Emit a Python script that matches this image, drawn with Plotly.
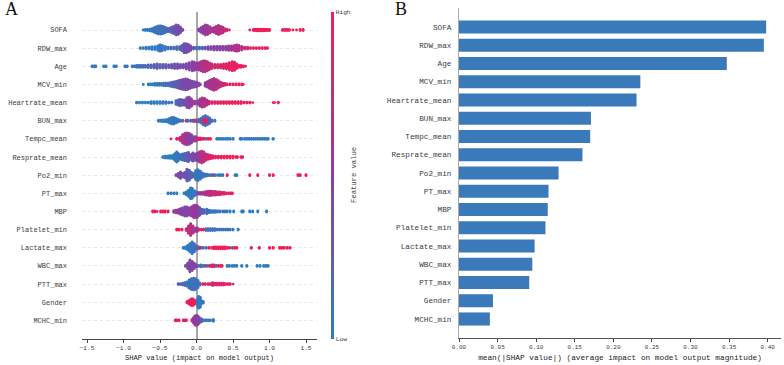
import plotly.graph_objects as go

features = ["SOFA","RDW_max","Age","MCV_min","Heartrate_mean","BUN_max","Tempc_mean","Resprate_mean",
            "Po2_min","PT_max","MBP","Platelet_min","Lactate_max","WBC_max","PTT_max","Gender","MCHC_min"]
mean_abs_shap = [0.398,0.395,0.347,0.235,0.230,0.171,0.170,0.160,0.129,0.116,0.115,0.112,0.098,0.095,0.091,0.044,0.040]
shap_ticks = [-1.5,-1.0,-0.5,0.0,0.5,1.0,1.5]
bar_ticks = [0.0,0.05,0.10,0.15,0.20,0.25,0.30,0.35,0.40]

# swarm columns: SHAP value, dots in the column, feature value (0 low .. 1 high)
sofa_x = [-.73,-.70,-.67,-.64,-.61,-.58,-.55,-.52,-.49,-.46,-.43,-.40,-.37,-.34,-.31,-.28,-.25,-.22,-.19,
          .03,.06,.09,.12,.15,.18,.21,.24,.27,.30,.33,.36,.39,.42,.45,
          .73,.78,.80,.82,.84,.86,.88,.90,.92,.94,.96,.98,1.0,1.18,1.21,1.24,1.27,1.32,1.37,1.42,1.46]
sofa_n = [1,2,2,3,4,6,8,10,10,9,7,5,5,7,9,12,11,7,2,
          3,6,9,12,11,8,5,6,9,11,9,7,4,2,1,
          1,2,2,2,3,2,3,2,3,2,2,2,2,2,2,2,2,1,1,2,2]
sofa_c = [0,0,0,0,.05,.05,.05,.08,.08,.1,.12,.15,.2,.25,.3,.35,.38,.4,.42,
          .45,.5,.55,.55,.6,.6,.65,.65,.7,.7,.72,.75,.8,.85,.9,
          1,1,1,1,1,1,1,1,1,1,1,1,1,1,1,1,1,1,1,1,1]

rdw_x = [-.77,-.73,-.69,-.65,-.61,-.57,-.53,-.50,-.47,-.43,-.39,-.35,-.31,-.27,-.23,-.20,-.17,-.14,-.11,-.08,-.04,
         0,.04,.08,.12,.16,.20,.24,.28,.32,.36,.40,.44,.48,.52,.55,.58,.62,.66,.70,.74,.78,.82,.86,.90,.94,.97]
rdw_n = [2,2,3,3,4,4,6,8,7,5,3,3,3,4,4,7,11,11,9,6,3,
         3,3,3,3,4,4,5,5,5,5,5,6,6,7,8,7,5,3,3,2,2,2,2,2,2,2]
rdw_c = [0,0,0,0,0,0,.02,.05,.05,.08,.1,.1,.12,.15,.2,.25,.3,.35,.38,.4,.4,
         .1,.1,.2,.35,.4,.45,.45,.45,.5,.5,.5,.55,.6,.65,.7,.7,.75,.8,.85,.9,.95,1,1,1,1,1]

age_x = [-1.43,-1.40,-1.38,-1.27,-1.24,-1.13,-1.10,-.98,-.95,-.88,-.85,-.82,-.79,-.76,-.73,-.70,-.66,-.62,-.58,-.54,-.50,-.46,-.42,-.38,-.34,-.30,-.26,-.22,-.18,-.14,-.10,-.06,-.03,
         0,.03,.06,.09,.12,.15,.18,.21,.25,.29,.33,.37,.41,.45,.49,.52,.55,.58,.61,.64,.67]
age_n = [2,2,2,2,2,2,2,2,2,2,2,3,3,3,3,3,4,4,5,6,5,5,5,4,5,6,6,5,5,7,9,11,10,
         8,9,11,13,13,11,8,6,5,5,5,6,7,9,11,10,6,3,3,2,1]
age_c = [0,0,0,0,0,0,0,.02,.02,.05,.05,.08,.1,.1,.1,.15,.15,.2,.2,.22,.25,.25,.28,.3,.3,.32,.35,.35,.38,.4,.45,.5,.5,
         .55,.6,.65,.7,.7,.72,.75,.8,.85,.85,.88,.9,.92,.92,.95,.95,.95,1,1,1,1]

mcv_x = [-.73,-.66,-.63,-.60,-.57,-.54,-.51,-.48,-.45,-.42,-.39,-.36,-.33,-.30,-.27,-.24,-.21,-.18,-.15,-.12,-.09,-.06,-.03,
         0,.03,.05,.12,.15,.18,.21,.24,.27,.30,.33,.36,.39,.42,.46,.50,.54,.58,.62,.64]
mcv_n = [1,2,2,2,3,3,3,3,4,4,4,5,6,7,8,10,11,12,13,12,10,8,7,
         6,4,2,5,7,10,12,14,12,9,6,4,3,2,2,2,2,2,2,1]
mcv_c = [0,0,0,0,0,.02,.05,.05,.08,.1,.12,.15,.18,.2,.25,.3,.35,.4,.42,.42,.42,.42,.4,
         .45,.45,.45,.55,.6,.6,.65,.65,.7,.72,.75,.8,.85,.9,.92,.95,1,1,1,1]

hr_x = [-.82,-.78,-.74,-.70,-.66,-.62,-.58,-.54,-.50,-.46,-.42,-.38,-.34,-.28,-.25,-.22,-.19,-.16,-.13,-.10,-.07,-.04,
        -.02,.02,.05,.08,.11,.14,.17,.21,.25,.29,.33,.37,.41,.45,.49,.53,.57,.61,.65,.69,.73,.77,1.05,1.07,1.12]
hr_n = [2,2,2,2,2,3,3,3,3,3,3,2,2,5,7,8,7,7,12,13,9,4,
        4,5,9,11,10,7,4,3,3,3,3,3,3,3,3,3,3,3,2,2,2,1,1,1,2]
hr_c = [0,0,0,0,0,0,0,0,.02,.02,.05,.05,.05,.15,.2,.25,.3,.35,.42,.45,.6,.85,
        .4,.5,.6,.65,.7,.7,.8,.85,.9,.9,.95,.95,.95,1,1,1,.95,.95,1,1,1,1,1,1,1]

bun_x = [-.52,-.49,-.46,-.43,-.40,-.37,-.34,-.31,-.28,-.25,-.22,-.19,-.14,-.12,-.08,-.05,-.03,
         0,.03,.06,.09,.12,.15,.18,.21,.25,.09,.12,.15]
bun_n = [2,2,3,3,4,6,8,8,6,4,2,2,2,2,2,2,3,
         3,4,6,10,12,10,7,3,2,4,5,3]
bun_c = [0,0,0,0,0,0,.02,.05,.05,.05,.08,.1,1,.1,.1,1,.1,
         1,.1,.05,.05,.05,.1,.1,.05,.05,.85,.95,.85]

tempc_x = [-.35,-.27,-.24,-.22,-.19,-.16,-.13,-.10,-.07,-.04,-.01,.02,.05,.08,.10,.13,.16,.19,.28,.31,.34,.37,.40,.43,.46,.50,.60,.62,.66,.69,.72,.75,.78,.81,.84,.87,.90,.93,.96,.98,1.05]
tempc_n = [1,2,2,5,10,13,14,13,10,6,6,3,3,2,2,2,2,2,2,2,2,2,2,2,2,2,2,2,2,2,2,2,2,2,2,2,2,2,2,2,2]
tempc_c = [1,.9,.9,.85,.7,.6,.55,.5,.5,.55,.45,.9,.95,1,1,.15,1,.9,0,0,0,0,0,0,0,0,0,0,0,0,0,0,0,0,0,0,0,0,0,0,0]

resp_x = [-.46,-.43,-.40,-.37,-.34,-.31,-.29,-.27,-.25,-.22,-.19,-.16,-.13,-.11,-.08,-.05,-.02,
          .01,.04,.07,.10,.13,.16,.19,.22,.26,.30,.34,.38,.42,.46,.50,.54,.56,.61,.63]
resp_n = [2,3,3,4,4,6,9,12,9,6,8,9,10,11,7,10,8,
          9,12,14,12,8,6,5,4,3,3,3,3,3,3,3,2,2,2,2]
resp_c = [0,0,0,0,0,0,0,.02,.05,.08,.12,.18,.25,.3,.35,.4,.45,
          .5,.6,.7,.75,.8,.85,.9,.95,.95,1,1,1,1,.95,1,1,1,1,1]

po2_x = [-.28,-.25,-.22,-.19,-.16,-.13,-.10,-.07,-.04,-.01,.02,.05,.08,.11,.14,.17,.20,.23,.26,.30,.33,.36,.42,.53,.55,.73,.84,1.0,1.05,1.39,1.42,1.5]
po2_n = [2,5,8,5,7,14,12,7,5,11,13,10,6,4,3,2,2,2,2,2,2,2,2,2,2,2,2,2,2,2,2,2]
po2_c = [.4,.4,.42,.35,.35,.3,.25,.2,.12,.05,.03,.03,.03,.03,.1,.03,.03,.5,.03,.03,.03,.03,1,0,0,1,1,1,1,1,1,1]

pt_x = [-.39,-.35,-.31,-.27,-.17,-.14,-.11,-.08,-.06,-.03,-.01,
        .02,.05,.08,.11,.14,.17,.20,.23,.26,.29,.32,.35,.38,.41,.44,.47,.49]
pt_n = [2,2,2,2,2,4,8,13,12,7,4,
        3,3,3,4,5,6,6,5,5,4,4,3,3,2,2,2,2]
pt_c = [0,0,0,0,0,0,0,0,.02,.02,.02,
        .5,.55,.6,.65,.7,.75,.7,.8,.75,.85,.85,.9,.9,.9,.95,.95,1]

mbp_x = [-.60,-.57,-.54,-.49,-.46,-.43,-.39,-.31,-.28,-.25,-.22,-.19,-.16,-.13,-.10,-.07,-.04,-.02,.01,.04,.07,.10,.14,.17,.20,.23,.26,.29,.32,.36,.39,.42,.46,.51,.62,.64,.73,.77,.84,.96]
mbp_n = [2,2,1,2,2,2,2,3,4,5,7,9,11,11,9,11,14,15,14,10,6,5,6,4,3,3,3,2,2,2,2,2,2,2,2,2,2,2,2,2]
mbp_c = [1,1,1,1,1,1,1,.6,.55,.5,.5,.45,.45,.45,.5,.55,.6,.55,.5,.4,.3,.2,.12,.1,.05,.05,.05,.05,.05,.05,.05,.05,0,0,0,0,0,0,0,0]

plt_x = [-.27,-.24,-.20,-.14,-.11,-.08,-.05,-.02,.01,.04,.07,.10,.13,.16,.19,.22,.25,.28,.31,.34,.37,.40,.43,.46,.50,.57]
plt_n = [2,2,2,3,9,14,9,5,5,2,2,2,3,3,3,3,3,2,2,2,2,2,2,2,2,2]
plt_c = [1,1,1,.9,.8,.7,.7,.55,.5,1,1,.9,.1,.1,.1,.1,.1,.05,.05,.05,.05,.05,.05,.05,.05,0]

lac_x = [-.18,-.15,-.12,-.09,-.06,-.03,0,.03,.06,.09,.13,.17,.21,.24,.27,.30,.33,.36,.39,.42,.45,.49,.52,.55,.75,.86,1.0,1.05,1.14,1.17,1.20,1.24,1.28]
lac_n = [2,3,6,10,14,10,5,3,2,2,2,2,2,3,3,3,3,3,3,2,2,2,2,2,2,2,2,2,2,2,2,2,2]
lac_c = [0,0,0,0,.05,.08,.15,.35,.7,.1,.1,.9,1,1,1,1,1,1,1,1,1,.1,1,1,1,1,1,1,1,1,1,1,1]

wbc_x = [-.15,-.12,-.09,-.06,-.03,0,.03,.06,.09,.12,.15,.18,.21,.24,.27,.30,.33,.35,.42,.45,.49,.52,.55,.62,.69,.83,.87,.92,.95,.98]
wbc_n = [2,7,14,11,7,3,2,3,2,2,2,2,3,3,2,2,2,2,2,2,2,2,2,2,2,2,2,2,2,2]
wbc_c = [.3,.4,.42,.45,.45,.5,.1,.1,.1,.7,.1,.8,.85,.9,.2,.9,1,1,0,0,0,0,0,0,0,0,0,0,0,0]

ptt_x = [-.25,-.22,-.19,-.16,-.13,-.10,-.07,-.04,-.01,.02,.05,.09,.12,.16,.19,.22,.25,.28,.31,.34,.37,.40,.43,.46,.50]
ptt_n = [2,2,3,4,6,10,13,14,13,9,3,2,2,2,2,4,3,3,3,3,3,2,2,2,1]
ptt_c = [.3,.2,.15,.1,.1,.05,.05,.08,.1,.1,.1,1,.9,.9,.8,.85,.85,.9,.9,.9,.95,1,1,.9,1]

gen_x = [-.13,-.11,-.09,-.07,-.05,-.03,-.01,.01,.02,.03,.05,.07,.09]
gen_n = [2,4,6,8,8,6,4,4,10,14,12,4,3]
gen_c = [1,1,1,1,1,1,1,0,0,0,0,0,0]

mchc_x = [-.29,-.27,-.24,-.18,-.16,-.14,-.06,-.04,-.02,0,.02,.04,.07,.10,.13,.16,.19,.23]
mchc_n = [2,2,2,2,2,2,3,7,11,12,10,7,4,2,2,2,2,3]
mchc_c = [1,1,1,1,1,1,.9,.55,.5,.55,.5,.45,.3,.05,0,0,0,0]

swarm_x = [sofa_x,rdw_x,age_x,mcv_x,hr_x,bun_x,tempc_x,resp_x,po2_x,pt_x,mbp_x,plt_x,lac_x,wbc_x,ptt_x,gen_x,mchc_x]
swarm_n = [sofa_n,rdw_n,age_n,mcv_n,hr_n,bun_n,tempc_n,resp_n,po2_n,pt_n,mbp_n,plt_n,lac_n,wbc_n,ptt_n,gen_n,mchc_n]
swarm_c = [sofa_c,rdw_c,age_c,mcv_c,hr_c,bun_c,tempc_c,resp_c,po2_c,pt_c,mbp_c,plt_c,lac_c,wbc_c,ptt_c,gen_c,mchc_c]

W, H = 784, 365
MONO = "Liberation Mono, DejaVu Sans Mono, monospace"
TXT = "#3c3c3c"
SCALE = [[0, "#2f7cc0"], [0.5, "#8c3fa3"], [1, "#f01e58"]]
DOT_STEP = 0.05   # vertical distance between stacked dots, in rows

px, py, pc = [], [], []
for row, (xs, ns, cs) in enumerate(zip(swarm_x, swarm_n, swarm_c)):
    for x, n, c in zip(xs, ns, cs):
        for i in range(n):
            px.append(x)
            py.append(row + (i - (n - 1) / 2) * DOT_STEP)
            pc.append(c)

fig = go.Figure()
fig.add_trace(go.Scatter(
    x=px, y=py, mode="markers", xaxis="x", yaxis="y", showlegend=False, hoverinfo="skip",
    marker=dict(size=2.9, color=pc, cmin=0, cmax=1, colorscale=SCALE, line=dict(width=0),
                colorbar=dict(
                    x=330.5/W, xanchor="left", xpad=0, y=(H-338.5)/H, yanchor="bottom", ypad=0,
                    len=326.5/H, lenmode="fraction", thickness=3, thicknessmode="pixels",
                    outlinewidth=0, tickvals=[0, 1], ticktext=["Low", "High"], ticks="",
                    tickfont=dict(family=MONO, size=6.2, color=TXT),
                ))))
fig.add_trace(go.Bar(
    x=mean_abs_shap, y=list(range(len(features))), orientation="h", xaxis="x2", yaxis="y2",
    marker=dict(color="#3a7aba", line=dict(width=0)), width=0.72, showlegend=False, hoverinfo="skip"))

fig.update_layout(
    width=W, height=H, margin=dict(l=0, r=0, t=0, b=0, autoexpand=False), paper_bgcolor="white", plot_bgcolor="white",
    xaxis=dict(domain=[82/W, 317/W], range=[(82-196.5)/73, (317-196.5)/73], anchor="y",
               tickvals=shap_ticks, tickformat=".1f", ticks="outside", ticklen=3, tickwidth=0.8, tickcolor="#444",
               tickfont=dict(family=MONO, size=6.2, color=TXT), showgrid=False,
               zeroline=True, zerolinecolor="#a8a8a8", zerolinewidth=1.6,
               showline=True, linecolor="#444", linewidth=1,
               title=dict(text="SHAP value (impact on model output)", standoff=4, font=dict(family=MONO, size=7.1, color="#222"))),
    yaxis=dict(domain=[(H-338.5)/H, (H-12)/H], range=[(338.5-30)/18.15, (12-30)/18.15], anchor="x",
               tickvals=list(range(len(features))), ticktext=features, ticks="",
               tickfont=dict(family=MONO, size=7, color=TXT), ticklabelstandoff=14,
               showgrid=True, gridcolor="#e6e6e6", griddash="dot", gridwidth=0.5, zeroline=False, showline=False),
    xaxis2=dict(domain=[459/W, 781/W], range=[0, 322/771.75], anchor="y2",
                tickvals=bar_ticks, tickformat=".2f", ticks="outside", ticklen=3, tickwidth=0.8, tickcolor="#444",
                tickfont=dict(family=MONO, size=6, color=TXT), showgrid=False, zeroline=False,
                showline=True, linecolor="#555", linewidth=1,
                title=dict(text="mean(|SHAP value|) (average impact on model output magnitude)", standoff=4,
                           font=dict(family=MONO, size=7.75, color="#222"))),
    yaxis2=dict(domain=[(H-338)/H, (H-8)/H], range=[(338-27)/18.25, (8-27)/18.25], anchor="x2",
                tickvals=list(range(len(features))), ticktext=features, ticks="",
                tickfont=dict(family=MONO, size=7.7, color=TXT), ticklabelstandoff=5,
                showgrid=False, zeroline=False, showline=True, linecolor="#aaaaaa", linewidth=1),
    annotations=[
        dict(text="A", xref="paper", yref="paper", x=3/W, y=1-9/H, xanchor="left", yanchor="middle", showarrow=False,
             font=dict(family="Liberation Serif", size=18, color="#111")),
        dict(text="B", xref="paper", yref="paper", x=393/W, y=1-9/H, xanchor="left", yanchor="middle", showarrow=False,
             font=dict(family="Liberation Serif", size=18, color="#111")),
        dict(text="Feature value", xref="paper", yref="paper", x=354/W, y=1-175/H, xanchor="center", yanchor="middle",
             textangle=-90, showarrow=False, font=dict(family=MONO, size=7.2, color=TXT)),
    ],
)
fig.write_html("out.html", config={"displayModeBar": False},
               post_script="document.body.style.margin='0';")
